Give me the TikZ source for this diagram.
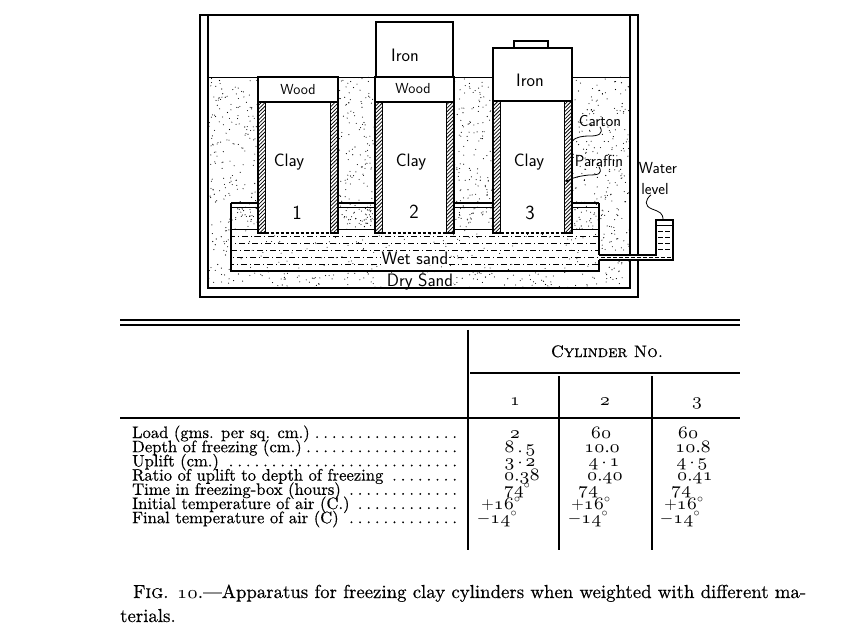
\documentclass[tikz,border=0pt]{standalone}
\usepackage{fontspec}
\usetikzlibrary{patterns.meta}
\newfontfamily\bookfont{lmroman10-regular.otf}[Ligatures=TeX, FakeBold=0.5, SmallCapsFont=lmromancaps10-regular.otf]
\font\osfA=cmmi7 at 17.5pt
\font\osfB=cmmi7 at 18pt
\newcommand\osf[1]{{\osfA #1}}
\newcommand\osfc[1]{{\osfB #1}}
\newcommand\lbl[1]{\hbox to 331pt{#1\leaders\hbox to 8.6pt{\hss.\hss}\hfill}}
\newcommand\rdot{\raisebox{3pt}{.}}
\begin{document}
\begin{tikzpicture}[x=1pt,y=-1pt,
  wall/.style={line width=1.4pt},
  ln/.style={line width=1.1pt},
  thinln/.style={line width=0.8pt},
  hatch/.style={line width=1.1pt, pattern={Lines[angle=45,distance=2.6pt,line width=0.75pt]}},
  block/.style={line width=1.1pt, fill=white},
  lab/.style={font=\sffamily\fontsize{16}{16}\selectfont, inner sep=0pt},
  big/.style={font=\sffamily\fontsize{18}{18}\selectfont, inner sep=0pt},
  tab/.style={font=\bookfont\fontsize{16.6}{14}\selectfont, inner sep=0pt, anchor=base west},
  val/.style={font=\bookfont\fontsize{17.4}{14}\selectfont, inner sep=0pt, anchor=base},
  rule/.style={line width=1.1pt}]
\useasboundingbox (0,0) rectangle (846,636);
\fill[white] (0,0) rectangle (846,636);

% ---- dry sand stipple
\pgfmathsetseed{4711}
\begin{scope}
  \clip (208,77) rectangle (630,288);
  \foreach \i in {1,...,2100} {\fill ({208+422*rnd},{77+211*rnd}) circle[radius=0.55pt];}
\end{scope}
\begin{scope}
  \clip (231,207) rectangle (599,229);
  \foreach \i in {1,...,260} {\fill ({231+368*rnd},{207+22*rnd}) circle[radius=0.55pt];}
\end{scope}

% ---- wet sand
\fill[white] (231,229) rectangle (599,271);
\begin{scope}
  \clip (231,229) rectangle (599,271);
  \foreach \y/\p in {236/2,243/5,250/0,257/7,264/3}
    \draw[line width=0.7pt, dash pattern=on 6pt off 3pt on 1pt off 3pt, dash phase=\p pt] (231,\y) -- (599,\y);
  \foreach \i in {1,...,120} {\fill ({231+368*rnd},{230+40*rnd}) circle[radius=0.5pt];}
\end{scope}

% ---- sand surface
\draw[thinln] (208,77) -- (630,77);

% ---- basin
\draw[ln] (599,260) -- (599,271) -- (231,271) -- (231,203);
\draw[ln] (599,255) -- (599,203);
\foreach \a/\b in {231/258,338/375,454/493,572/599} {
  \draw[ln] (\a,203) -- (\b,203);
  \draw[thinln] (\a,207) -- (\b,207);
  \draw[thinln] (\a,229) -- (\b,229);
}

% ---- cylinders
\foreach \L/\R/\T in {258/338/102,375/454/102,493/572/101} {
  \fill[white] (\L,\T) rectangle (\R,233);
  \draw[hatch] (\L,\T) rectangle ({\L+7.5},233);
  \draw[hatch] ({\R-7.5},\T) rectangle (\R,233);
  \draw[line width=1.1pt, dash pattern=on 3pt off 2pt] ({\L+7.5},233) -- ({\R-7.5},233);
}
\draw[block] (258,77) rectangle (338,102);
\draw[block] (375,77) rectangle (454,102);
\draw[block] (376,22) rectangle (453,77);
\draw[block] (493,48) rectangle (572,101);
\draw[block] (514,41) rectangle (548,48);

% ---- labels
\node[lab, font=\sffamily\fontsize{14.5}{15}\selectfont] (wood1) at (298,90) {Wood};
\node[lab, font=\sffamily\fontsize{14.5}{15}\selectfont] (wood2) at (413,89) {Wood};
\node[big] (iron2) at (405,55) {Iron};
\node[big] (iron3) at (530,80) {Iron};
\node[big] (clay1) at (289,162) {Clay};
\node[big] (clay2) at (411,162) {Clay};
\node[big] (clay3) at (529,162) {Clay};
\node[big, font=\sffamily\fontsize{20}{20}\selectfont] (n1) at (297,213) {1};
\node[big, font=\sffamily\fontsize{20}{20}\selectfont] (n2) at (414,212) {2};
\node[big, font=\sffamily\fontsize{20}{20}\selectfont] (n3) at (530,213) {3};
\node[lab] (carton) at (600,121) {Carton};
\node[lab] (paraffin) at (599,161) {Paraffin};
\node[lab] (water) at (658,168) {Water};
\node[lab] (level) at (655,189) {level};
\node[big, fill=white, inner sep=0.5pt] (wet) at (415,258) {Wet sand};
\node[big, fill=white, inner sep=0.3pt] (dry) at (420,282) {Dry Sand};

\coordinate (cartonpt) at (572,141);
\coordinate (paraffinpt) at (567,181);
\coordinate (levelpt) at (663,220);
\draw[thinln] (carton.south) .. controls (604,134) and (598,136) .. (590,136)
   .. controls (582,136) and (576,137) .. (cartonpt);
\draw[thinln] (paraffin.south) .. controls (603,174) and (598,175) .. (589,175)
   .. controls (579,176) and (572,178) .. (paraffinpt);
\fill (paraffinpt) circle[radius=1.3pt];
\draw[thinln] ([xshift=-4pt]level.south) .. controls (645,200) and (644,206) .. (652,209)
   .. controls (660,212) and (663,213) .. (levelpt);

% ---- box
\draw[wall] (200,15) rectangle (638,297);
\draw[wall] (208,15) -- (208,288) -- (630,288) -- (630,15);

% ---- pipe and gauge tube
\fill[white] (600,254.3) rectangle (672,260.7);
\fill[white] (656,220) rectangle (673,260);
\draw[ln] (599,255) -- (656,255) -- (656,220) -- (673,220) -- (673,260) -- (599,260);
\draw[line width=0.5pt, dash pattern=on 4pt off 2pt] (601,257.5) -- (671,257.5);
\draw[thinln] (656,225) -- (673,225);
\foreach \y in {231,237,243,249}
  \draw[line width=0.7pt, dash pattern=on 5pt off 2pt] (658,\y) -- (671,\y);

% ---- table
\draw[rule] (120,320) -- (740,320);
\draw[rule] (120,325) -- (740,325);
\draw[rule] (468,330) -- (468,550);
\draw[rule] (470,373) -- (740,373);
\draw[rule] (559,376) -- (559,550);
\draw[rule] (652,376) -- (652,550);
\draw[rule] (120,418) -- (740,418);

\node[val, font=\bookfont\fontsize{16.6}{14}\selectfont] (cyl) at (607,357) {\textsc{Cylinder No.}};
\node[val] (h1) at (515,405) {\osf{1}};
\node[val] (h2) at (605,405) {\osf{2}};
\node[val] (h3) at (697,405) {\osf{3}};

\node[tab] (r1) at (132,438) {\lbl{Load (gms. per sq. cm.)}};
\node[tab] (r2) at (132,452.2) {\lbl{Depth of freezing (cm.)}};
\node[tab] (r3) at (132,466.4) {\lbl{Uplift (cm.)}};
\node[tab] (r4) at (132,480.6) {\lbl{Ratio of uplift to depth of freezing}};
\node[tab] (r5) at (132,494.8) {\lbl{Time in freezing-box (hours)}};
\node[tab] (r6) at (132,509) {\lbl{Initial temperature of air (C.)}};
\node[tab] (r7) at (132,523.2) {\lbl{Final temperature of air (C)}};

\node[val] (a1) at (515,438) {\osf{2}};
\node[val] (a2) at (520,452.2) {\osf{8}\,.\,\osf{5}};
\node[val] (a3) at (520,466.4) {\osf{3}\,\rdot\,\osf{2}};
\node[val] (a4) at (522,480.6) {\osf{0}.\osf{38}};
\node[val] (a5) at (517,494.8) {\osf{74}$^\circ$};
\node[val] (a6) at (501,509) {$+$\osf{16}$^\circ$};
\node[val] (a7) at (497,523.2) {$-$\osf{14}$^\circ$};

\node[val] (b1) at (601,438) {\osf{60}};
\node[val] (b2) at (602,452.2) {\osf{10}.\osf{0}};
\node[val] (b3) at (604,466.4) {\osf{4}\,\rdot\,\osf{1}};
\node[val] (b4) at (605,480.6) {\osf{0}.\osf{40}};
\node[val] (b5) at (588,494.8) {\osf{74}};
\node[val] (b6) at (591,509) {$+$\osf{16}$^\circ$};
\node[val] (b7) at (588,523.2) {$-$\osf{14}$^\circ$};

\node[val] (c1) at (688,438) {\osf{60}};
\node[val] (c2) at (693,452.2) {\osf{10}.\osf{8}};
\node[val] (c3) at (692,466.4) {\osf{4}\,\rdot\,\osf{5}};
\node[val] (c4) at (695,480.6) {\osf{0}.\osf{41}};
\node[val] (c5) at (681,494.8) {\osf{74}};
\node[val] (c6) at (684,509) {$+$\osf{16}$^\circ$};
\node[val] (c7) at (680,523.2) {$-$\osf{14}$^\circ$};

% ---- caption
\node[anchor=base west, inner sep=0pt, font=\bookfont\fontsize{18.8}{24}\selectfont] (cap1) at (133,598)
  {F\textsc{ig}. \osfc{10}.---Apparatus for freezing clay cylinders when weighted with different ma-};
\node[anchor=base west, inner sep=0pt, font=\bookfont\fontsize{18.8}{24}\selectfont] (cap2) at (120,622) {terials.};
\end{tikzpicture}
\end{document}
